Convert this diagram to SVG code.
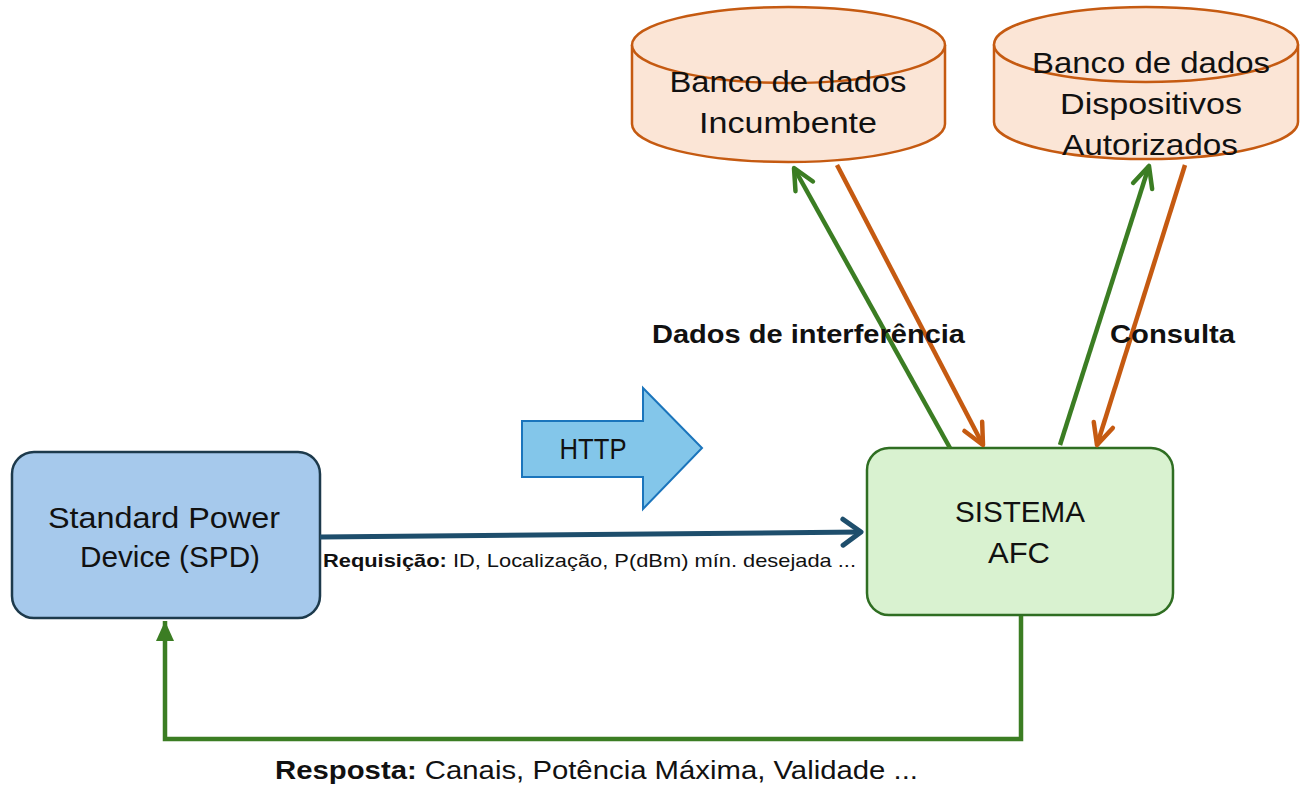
<svg xmlns="http://www.w3.org/2000/svg" width="1300" height="785" viewBox="0 0 1300 785">
<style>
text{font-family:"Liberation Sans",Arial,sans-serif;fill:#111;}
.node{font-size:30px;text-anchor:middle;}
.lbl{font-size:26px;font-weight:bold;}
.cyl{fill:#fbe5d6;stroke:#c55a11;stroke-width:2.5;}
.g{fill:none;stroke:#3b7d23;stroke-width:4.5;}
.o{fill:none;stroke:#c55a11;stroke-width:4.5;}
</style>
<defs>
<marker id="chG" markerUnits="userSpaceOnUse" markerWidth="40" markerHeight="40" viewBox="-30 -20 40 40" refX="0" refY="0" orient="auto" overflow="visible">
<path d="M-21,-10 L0,0 L-21,10" fill="none" stroke="#3b7d23" stroke-width="4.5" stroke-linecap="round" stroke-linejoin="round"/>
</marker>
<marker id="chO" markerUnits="userSpaceOnUse" markerWidth="40" markerHeight="40" viewBox="-30 -20 40 40" refX="0" refY="0" orient="auto" overflow="visible">
<path d="M-21,-10 L0,0 L-21,10" fill="none" stroke="#c55a11" stroke-width="4.5" stroke-linecap="round" stroke-linejoin="round"/>
</marker>
<marker id="chB" markerUnits="userSpaceOnUse" markerWidth="40" markerHeight="40" viewBox="-30 -20 40 40" refX="0" refY="0" orient="auto" overflow="visible">
<path d="M-18,-13 L0,0 L-18,13" fill="none" stroke="#1e4e6c" stroke-width="5" stroke-linecap="round" stroke-linejoin="round"/>
</marker>
<marker id="triG" markerUnits="userSpaceOnUse" markerWidth="40" markerHeight="40" viewBox="-30 -20 40 40" refX="0" refY="0" orient="auto" overflow="visible">
<path d="M-20,-9 L0,0 L-20,9 Z" fill="#3b7d23"/>
</marker>
</defs>

<g id="db-incumbente">
<path class="cyl" d="M632,45 V124 A156.5,38 0 0 0 945,124 V45"/>
<ellipse class="cyl" cx="788.5" cy="45" rx="156.5" ry="38"/>
<text class="node" x="788" y="92" textLength="237" lengthAdjust="spacingAndGlyphs">Banco de dados</text>
<text class="node" x="788" y="133" textLength="178" lengthAdjust="spacingAndGlyphs">Incumbente</text>
</g>

<g id="db-autorizados">
<path class="cyl" d="M994,44.5 V122 A152,37 0 0 0 1298,122 V44.5"/>
<ellipse class="cyl" cx="1146" cy="44.5" rx="152" ry="37.5"/>
<text class="node" x="1151" y="73" textLength="238" lengthAdjust="spacingAndGlyphs">Banco de dados</text>
<text class="node" x="1151" y="114" textLength="182" lengthAdjust="spacingAndGlyphs">Dispositivos</text>
<text class="node" x="1150" y="155" textLength="176" lengthAdjust="spacingAndGlyphs">Autorizados</text>
</g>

<g id="spd">
<rect x="12" y="452" width="308" height="166" rx="22" fill="#a6c9ec" stroke="#1d3a4c" stroke-width="2.5"/>
<text class="node" x="164" y="528" textLength="232" lengthAdjust="spacingAndGlyphs">Standard Power</text>
<text class="node" x="170" y="567" textLength="180" lengthAdjust="spacingAndGlyphs">Device (SPD)</text>
</g>

<g id="afc">
<rect x="867" y="448" width="306" height="167" rx="22" fill="#d9f2d0" stroke="#2f6e22" stroke-width="2.5"/>
<text class="node" x="1020" y="522" textLength="130" lengthAdjust="spacingAndGlyphs">SISTEMA</text>
<text class="node" x="1019" y="563" textLength="62" lengthAdjust="spacingAndGlyphs">AFC</text>
</g>

<g id="http">
<path d="M522,421 H643 V388 L702,448 L643,509 V477 H522 Z" fill="#83c6ea" stroke="#1b75bc" stroke-width="2"/>
<text x="593" y="459" font-size="29" text-anchor="middle" textLength="67" lengthAdjust="spacingAndGlyphs">HTTP</text>
</g>

<g id="connectors">
<line x1="320" y1="537" x2="861" y2="532" stroke="#1e4e6c" stroke-width="5" marker-end="url(#chB)"/>
<path class="g" d="M1021,616 V739 H165 V621" marker-end="url(#triG)"/>
<line class="g" x1="950" y1="448" x2="794" y2="168" marker-end="url(#chG)"/>
<line class="o" x1="837" y1="165" x2="983" y2="445" marker-end="url(#chO)"/>
<line class="g" x1="1060" y1="445" x2="1149" y2="166" marker-end="url(#chG)"/>
<line class="o" x1="1185" y1="165" x2="1097" y2="445" marker-end="url(#chO)"/>
</g>

<g id="labels">
<text class="lbl" x="652" y="343" textLength="313" lengthAdjust="spacingAndGlyphs">Dados de interferência</text>
<text class="lbl" x="1110" y="343" textLength="125" lengthAdjust="spacingAndGlyphs">Consulta</text>
<text x="323" y="567" font-size="19" textLength="533" lengthAdjust="spacingAndGlyphs"><tspan font-weight="bold">Requisição:</tspan> ID, Localização, P(dBm) mín. desejada ...</text>
<text x="275" y="779" font-size="26" textLength="643" lengthAdjust="spacingAndGlyphs"><tspan font-weight="bold">Resposta:</tspan> Canais, Potência Máxima, Validade ...</text>
</g>
</svg>
